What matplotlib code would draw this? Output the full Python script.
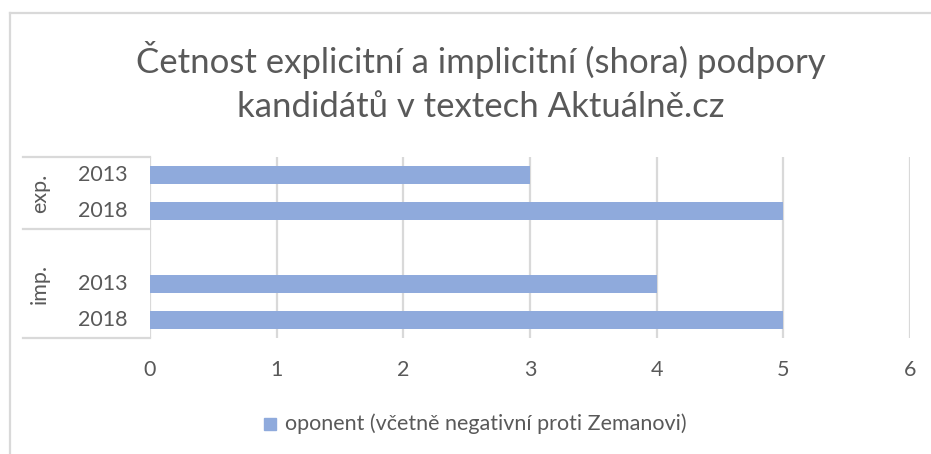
import matplotlib
matplotlib.use("Agg")
import matplotlib.pyplot as plt
from matplotlib import transforms
from matplotlib.lines import Line2D
from matplotlib.patches import Rectangle

# ---- data ----
title = "Četnost explicitní a implicitní (shora) podpory\nkandidátů v textech Aktuálně.cz"
groups = ["exp.", "imp."]
years = ["2013", "2018"]
values_exp = [3, 5]
values_imp = [4, 5]
series_name = "oponent (včetně negativní proti Zemanovi)"
x_ticks = [0, 1, 2, 3, 4, 5, 6]

W, H = 931, 454
fig = plt.figure(figsize=(W / 100, H / 100), dpi=100)
FONT = "Lato"
GRAY = "#595959"
GRID = "#d9d9d9"
BAR = "#8faadc"
FS = 15.5

L, R, T, B = 150, 910, 157, 338
ax = fig.add_axes([L / W, 1 - B / H, (R - L) / W, (B - T) / H])

# category slots: exp (2 slots), imp (blank + 2 slots)
pos_exp = [0, 1]
pos_imp = [3, 4]
ax.barh(pos_exp, values_exp, height=0.5, color=BAR, zorder=3)
ax.barh(pos_imp, values_imp, height=0.5, color=BAR, zorder=3)
ax.set_ylim(4.5, -0.5)
ax.set_xlim(0, 6)
ax.set_xticks(x_ticks)
ax.set_xticklabels([str(v) for v in x_ticks], fontsize=FS, color=GRAY, family=FONT)
ax.tick_params(axis="x", length=0, pad=16)
ax.set_yticks([])
for s in ax.spines.values():
    s.set_visible(False)
ax.xaxis.grid(True, color=GRID, lw=1.6, zorder=0)
ax.set_axisbelow(True)

# multi-level category labels
tr = transforms.blended_transform_factory(fig.transFigure, ax.transData)
for p, y in zip(pos_exp, years):
    ax.text(103 / W, p, y, transform=tr, ha="center", va="center",
            fontsize=FS, color=GRAY, family=FONT)
for p, y in zip(pos_imp, years):
    ax.text(103 / W, p, y, transform=tr, ha="center", va="center",
            fontsize=FS, color=GRAY, family=FONT)
ax.text(40 / W, (pos_exp[0] + pos_exp[-1]) / 2, groups[0], transform=tr, rotation=90,
        ha="center", va="center", fontsize=FS, color=GRAY, family=FONT)
ax.text(40 / W, (pos_imp[0] - 1 + pos_imp[-1]) / 2, groups[1], transform=tr, rotation=90,
        ha="center", va="center", fontsize=FS, color=GRAY, family=FONT)
for yy in [-0.5, 1.5, 4.5]:
    ax.add_line(Line2D([23 / W, 150 / W], [yy, yy], transform=tr, color=GRID, lw=1.6,
                       clip_on=False))

# title
fig.text(481 / W, 1 - 82 / H, title, ha="center", va="center", fontsize=25,
         color=GRAY, family=FONT, linespacing=1.45)

# legend
fig.patches.append(Rectangle((264 / W, 1 - 430 / H), 12 / W, 12 / H,
                             transform=fig.transFigure, color=BAR))
fig.text(285 / W, 1 - 424 / H, series_name, ha="left", va="center", fontsize=FS,
         color=GRAY, family=FONT)

# chart border (partially visible)
fig.add_artist(Line2D([10 / W, 10 / W], [0, 1 - 13 / H], transform=fig.transFigure,
                      color=GRID, lw=1.6))
fig.add_artist(Line2D([10 / W, 1], [1 - 13 / H, 1 - 13 / H], transform=fig.transFigure,
                      color=GRID, lw=1.6))

fig.savefig("out.png", dpi=100)
